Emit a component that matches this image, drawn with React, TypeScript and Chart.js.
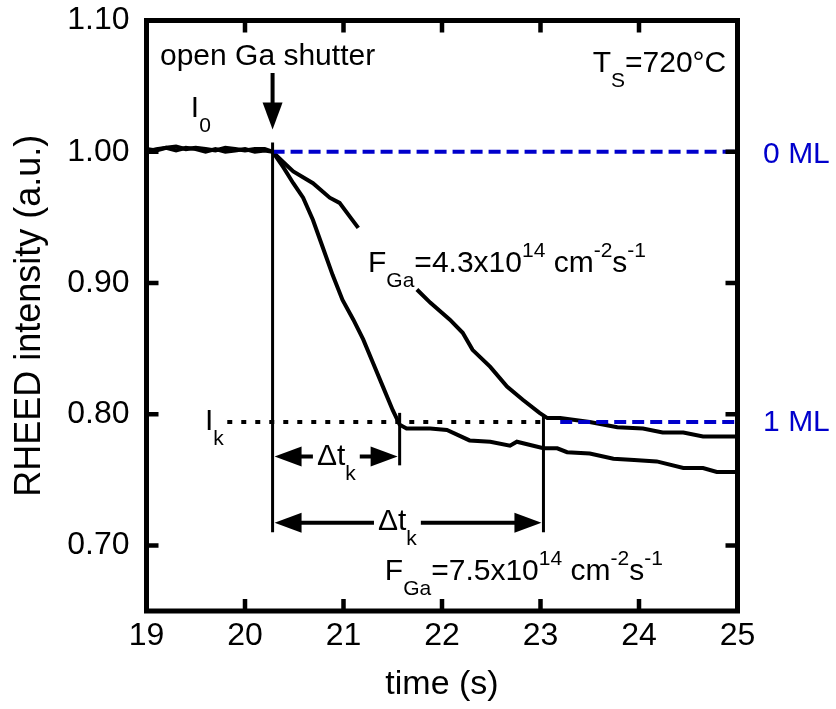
import React, { useEffect, useRef } from "react";
import { Chart, registerables } from "chart.js";

Chart.register(...registerables);

const FONT = '"Liberation Sans", Arial, Helvetica, sans-serif';
const BLUE = "#0000CC";

// ---- axis ticks ----
const X_TICKS = [19, 20, 21, 22, 23, 24, 25];
const Y_TICKS = [0.7, 0.8, 0.9, 1.0, 1.1];

// ---- curve for F_Ga = 7.5e14 (fast) ----
const TIME_FAST = [
  19.0, 19.1, 19.2, 19.3, 19.4, 19.5, 19.6, 19.7, 19.8, 19.9, 20.0, 20.1, 20.2, 20.28,
  20.39, 20.49, 20.59, 20.69, 20.79, 20.89, 20.99, 21.1, 21.2, 21.3, 21.4, 21.5, 21.57,
  21.64, 21.88, 22.05, 22.28, 22.49, 22.69, 22.76, 23.03, 23.17, 23.27, 23.5, 23.74,
  23.95, 24.18, 24.45, 24.65, 24.79, 25.0,
];
const INTENSITY_FAST = [
  1.0, 1.002, 1.003, 1.001, 1.003, 1.002, 1.0, 1.002, 1.0, 1.001, 1.002, 1.0, 1.001, 1.0,
  0.988, 0.976, 0.965, 0.948, 0.927, 0.906, 0.887, 0.872, 0.857, 0.839, 0.821, 0.803, 0.792,
  0.789, 0.789, 0.788, 0.78, 0.779, 0.776, 0.779, 0.774, 0.774, 0.771, 0.77, 0.766,
  0.765, 0.764, 0.759, 0.759, 0.756, 0.756,
];

// ---- curve for F_Ga = 4.3e14 (slow); null = hidden behind the label ----
const TIME_SLOW = [
  19.0, 19.1, 19.2, 19.3, 19.4, 19.5, 19.6, 19.7, 19.8, 19.9, 20.0, 20.1, 20.2, 20.28,
  20.39, 20.49, 20.69, 20.86, 20.96, 21.07, 21.15, 21.45,
  21.745, 21.88, 22.08, 22.21, 22.31, 22.49, 22.66, 22.82, 22.99, 23.07, 23.2, 23.5,
  23.78, 24.04, 24.24, 24.45, 24.65, 24.79, 25.0,
];
const INTENSITY_SLOW = [
  1.002, 1.001, 1.003, 1.004, 1.002, 1.003, 1.002, 1.001, 1.003, 1.002, 1.001, 1.002, 1.002, 1.0,
  0.992, 0.985, 0.976, 0.965, 0.961, 0.95, 0.942, null,
  0.895, 0.885, 0.872, 0.862, 0.849, 0.836, 0.821, 0.811, 0.801, 0.797, 0.797, 0.794,
  0.79, 0.789, 0.786, 0.786, 0.783, 0.783, 0.783,
];

// ---- reference levels / markers (data units) ----
const SHUTTER_T = 20.28;
const I0 = 1.0;
const IK = 0.794;
const TK_FAST = 21.57;
const TK_SLOW = 23.03;
const ML0_RANGE = [SHUTTER_T, 25];
const ML1_RANGE = [23.2, 25];
const IK_RANGE = [19.82, 23.07];

const V_LINES = [
  { x: SHUTTER_T, y1: 1.007, y2: 0.71 },
  { x: TK_FAST, y1: 0.801, y2: 0.761 },
  { x: TK_SLOW, y1: 0.798, y2: 0.71 },
];
const SHUTTER_ARROW = { x: SHUTTER_T, from: 1.06, to: 1.017 };
const DT_ARROWS = [
  { y: 0.7677, x1: SHUTTER_T, x2: TK_FAST, tx: 20.73, ty: 0.7616 },
  { y: 0.7173, x1: SHUTTER_T, x2: TK_SLOW, tx: 21.35, ty: 0.712 },
];

type Seg = { t: string; k: "n" | "sub" | "sup" };
const LABELS: { x: number; y: number; segs: Seg[]; color: string }[] = [
  { x: 19.137, y: 1.0662, segs: [{ t: "open Ga shutter", k: "n" }], color: "#000" },
  { x: 19.45, y: 1.0262, segs: [{ t: "I", k: "n" }, { t: "0", k: "sub" }], color: "#000" },
  { x: 23.53, y: 1.0608, segs: [{ t: "T", k: "n" }, { t: "S", k: "sub" }, { t: "=720°C", k: "n" }], color: "#000" },
  {
    x: 21.249, y: 0.9082, color: "#000",
    segs: [
      { t: "F", k: "n" }, { t: "Ga", k: "sub" }, { t: "=4.3x10", k: "n" }, { t: "14", k: "sup" },
      { t: " cm", k: "n" }, { t: "-2", k: "sup" }, { t: "s", k: "n" }, { t: "-1", k: "sup" },
    ],
  },
  {
    x: 21.42, y: 0.6738, color: "#000",
    segs: [
      { t: "F", k: "n" }, { t: "Ga", k: "sub" }, { t: "=7.5x10", k: "n" }, { t: "14", k: "sup" },
      { t: " cm", k: "n" }, { t: "-2", k: "sup" }, { t: "s", k: "n" }, { t: "-1", k: "sup" },
    ],
  },
  { x: 19.594, y: 0.7883, segs: [{ t: "I", k: "n" }, { t: "k", k: "sub" }], color: "#000" },
  { x: 25.26, y: 0.9916, segs: [{ t: "0 ML", k: "n" }], color: BLUE },
  { x: 25.26, y: 0.7868, segs: [{ t: "1 ML", k: "n" }], color: BLUE },
];
const DT_SEGS: Seg[] = [{ t: "Δt", k: "n" }, { t: "k", k: "sub" }];

const MAIN = 30;
const SMALL = 21;

function drawRich(ctx: CanvasRenderingContext2D, x: number, y: number, segs: Seg[], color: string, bg = false) {
  const widths = segs.map((s) => {
    ctx.font = `${s.k === "n" ? MAIN : SMALL}px ${FONT}`;
    return ctx.measureText(s.t).width;
  });
  const total = widths.reduce((a, b) => a + b, 0);
  if (bg) {
    ctx.fillStyle = "#fff";
    ctx.fillRect(x - 4, y - 24, total + 8, 27);
  }
  ctx.fillStyle = color;
  ctx.textAlign = "left";
  ctx.textBaseline = "alphabetic";
  let cx = x;
  segs.forEach((s, i) => {
    ctx.font = `${s.k === "n" ? MAIN : SMALL}px ${FONT}`;
    const dy = s.k === "sub" ? 15 : s.k === "sup" ? -15 : 0;
    ctx.fillText(s.t, cx, y + dy);
    cx += widths[i];
  });
}

const annotPlugin = {
  id: "annot",
  afterDatasetsDraw(chart: any) {
    const { ctx, chartArea: a } = chart;
    const xs = chart.scales.x;
    const ys = chart.scales.y;
    const px = (v: number) => xs.getPixelForValue(v);
    const py = (v: number) => ys.getPixelForValue(v);
    ctx.save();
    ctx.strokeStyle = "#000";
    ctx.fillStyle = "#000";
    ctx.lineCap = "butt";

    // vertical marker lines
    ctx.lineWidth = 3;
    for (const v of V_LINES) {
      ctx.beginPath();
      ctx.moveTo(px(v.x), py(v.y1));
      ctx.lineTo(px(v.x), py(v.y2));
      ctx.stroke();
    }

    // shutter arrow (down)
    {
      const X = px(SHUTTER_ARROW.x);
      const tip = py(SHUTTER_ARROW.to);
      const HL = 27, HW = 10;
      ctx.lineWidth = 4;
      ctx.beginPath();
      ctx.moveTo(X, py(SHUTTER_ARROW.from));
      ctx.lineTo(X, tip - HL + 1);
      ctx.stroke();
      ctx.beginPath();
      ctx.moveTo(X, tip);
      ctx.lineTo(X - HW, tip - HL);
      ctx.lineTo(X + HW, tip - HL);
      ctx.closePath();
      ctx.fill();
    }

    // Δt double arrows
    for (const ar of DT_ARROWS) {
      const Y = py(ar.y);
      const l = px(ar.x1) + 2;
      const r = px(ar.x2) - 2;
      const HL = 27, HW = 10;
      ctx.fillStyle = "#000";
      ctx.lineWidth = 4;
      ctx.beginPath();
      ctx.moveTo(l + HL - 1, Y);
      ctx.lineTo(r - HL + 1, Y);
      ctx.stroke();
      ctx.beginPath();
      ctx.moveTo(l, Y);
      ctx.lineTo(l + HL, Y - HW);
      ctx.lineTo(l + HL, Y + HW);
      ctx.closePath();
      ctx.fill();
      ctx.beginPath();
      ctx.moveTo(r, Y);
      ctx.lineTo(r - HL, Y - HW);
      ctx.lineTo(r - HL, Y + HW);
      ctx.closePath();
      ctx.fill();
      drawRich(ctx, px(ar.tx), py(ar.ty), DT_SEGS, "#000", true);
    }

    // frame and inward ticks on all sides
    ctx.strokeStyle = "#000";
    ctx.lineWidth = 5;
    ctx.strokeRect(a.left, a.top, a.right - a.left, a.bottom - a.top);
    ctx.lineWidth = 4.5;
    const TL = 12;
    for (const v of X_TICKS) {
      const X = px(v);
      ctx.beginPath();
      ctx.moveTo(X, a.bottom);
      ctx.lineTo(X, a.bottom - TL);
      ctx.moveTo(X, a.top);
      ctx.lineTo(X, a.top + TL);
      ctx.stroke();
    }
    for (const v of Y_TICKS) {
      const Y = py(v);
      ctx.beginPath();
      ctx.moveTo(a.left, Y);
      ctx.lineTo(a.left + TL, Y);
      ctx.moveTo(a.right, Y);
      ctx.lineTo(a.right - TL, Y);
      ctx.stroke();
    }

    // text labels
    for (const L of LABELS) drawRich(ctx, px(L.x), py(L.y), L.segs, L.color);
    ctx.restore();
  },
};

export default function App() {
  const ref = useRef<HTMLCanvasElement | null>(null);
  useEffect(() => {
    if (!ref.current) return;
    const toXY = (t: number[], v: (number | null)[]) => t.map((x, i) => ({ x, y: v[i] }));
    const chart = new Chart(ref.current, {
      type: "line",
      data: {
        datasets: [
          {
            data: [{ x: ML0_RANGE[0], y: I0 }, { x: ML0_RANGE[1], y: I0 }],
            borderColor: BLUE, borderWidth: 4, borderDash: [12, 6], pointRadius: 0,
          },
          {
            data: [{ x: ML1_RANGE[0], y: IK }, { x: ML1_RANGE[1], y: IK }],
            borderColor: BLUE, borderWidth: 4, borderDash: [12, 6], pointRadius: 0,
          },
          {
            data: [{ x: IK_RANGE[0], y: IK }, { x: IK_RANGE[1], y: IK }],
            borderColor: "#000", borderWidth: 4, borderDash: [5, 9], pointRadius: 0,
          },
          {
            data: toXY(TIME_FAST, INTENSITY_FAST) as any,
            borderColor: "#000", borderWidth: 4, pointRadius: 0, tension: 0,
          },
          {
            data: toXY(TIME_SLOW, INTENSITY_SLOW) as any,
            borderColor: "#000", borderWidth: 4, pointRadius: 0, tension: 0, spanGaps: false,
          },
        ],
      },
      options: {
        animation: false,
        responsive: false,
        devicePixelRatio: 1,
        layout: { padding: { left: 0, right: 98.5, top: 20.5, bottom: 0 } },
        plugins: { legend: { display: false }, tooltip: { enabled: false } },
        scales: {
          x: {
            type: "linear",
            min: 19,
            max: 25,
            grid: { display: false, drawTicks: false },
            border: { display: false },
            afterBuildTicks: (s: any) => { s.ticks = X_TICKS.map((v) => ({ value: v })); },
            afterFit: (s: any) => { s.height = 98; s.paddingLeft = 0; s.paddingRight = 0; },
            ticks: { color: "#000", font: { family: FONT, size: 32 }, padding: 6, maxRotation: 0, autoSkip: false },
            title: { display: true, text: "time (s)", color: "#000", font: { family: FONT, size: 34 }, padding: { top: 0, bottom: 4 } },
          },
          y: {
            type: "linear",
            min: 0.65,
            max: 1.1,
            grid: { display: false, drawTicks: false },
            border: { display: false },
            afterBuildTicks: (s: any) => { s.ticks = Y_TICKS.map((v) => ({ value: v })); },
            afterFit: (s: any) => { s.width = 146.5; s.paddingTop = 0; s.paddingBottom = 0; },
            ticks: {
              color: "#000", font: { family: FONT, size: 32 }, padding: 17, autoSkip: false,
              callback: (v: any) => Number(v).toFixed(2),
            },
            title: { display: true, text: "RHEED intensity (a.u.)", color: "#000", font: { family: FONT, size: 36 }, padding: { top: 8, bottom: 0 } },
          },
        },
      },
      plugins: [annotPlugin],
    });
    return () => chart.destroy();
  }, []);
  return (
    <div style={{ position: "absolute", left: 0, top: 0, width: 836, height: 709, background: "#fff" }}>
      <canvas ref={ref} width={836} height={709} style={{ display: "block", width: 836, height: 709 }} />
    </div>
  );
}
